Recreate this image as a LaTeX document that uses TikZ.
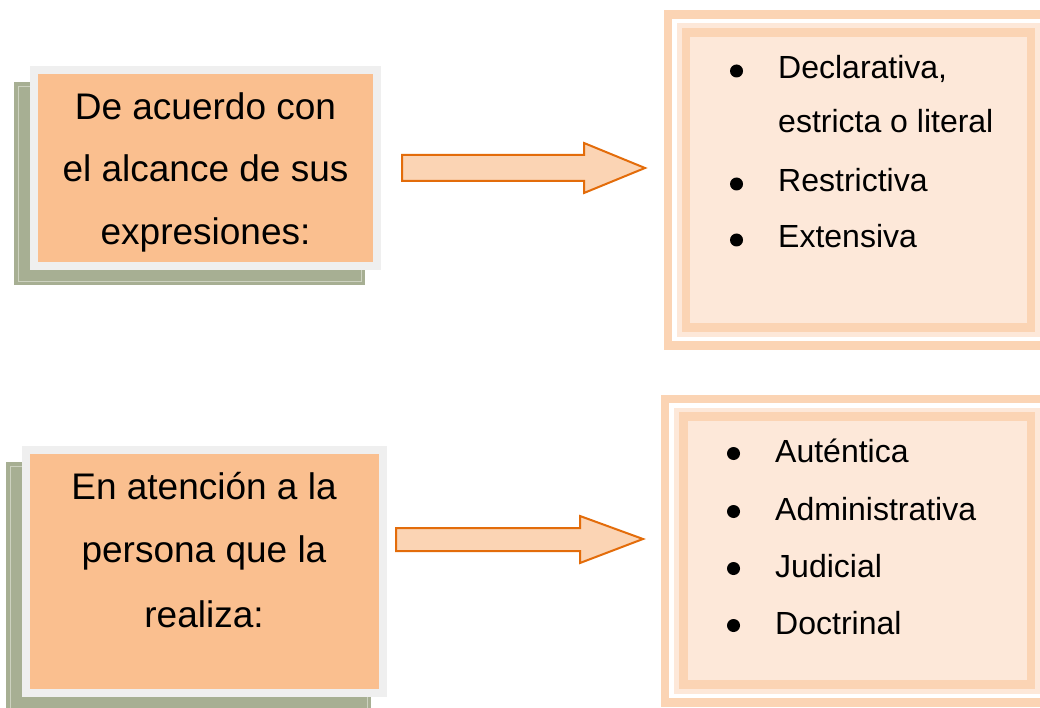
\documentclass[tikz,border=0pt]{standalone}
\usepackage{fontspec}
\setmainfont{Liberation Sans}
\definecolor{boxfill}{HTML}{FABF8F}
\definecolor{framegray}{HTML}{EFEFEF}
\definecolor{shadowgreen}{HTML}{A7AF93}
\definecolor{shadowline}{HTML}{CDD2C0}
\definecolor{band}{HTML}{FBD4B4}
\definecolor{pale}{HTML}{FDE8D9}
\definecolor{arrowline}{HTML}{E36C0A}

\begin{document}
\begin{tikzpicture}[x=1pt,y=-1pt]
\tikzstyle{every node}+=[inner sep=0pt]
\tikzset{
  bigtext/.style={font=\fontsize{37}{43}\selectfont, anchor=base},
  listtext/.style={font=\fontsize{32}{38}\selectfont, anchor=base west},
  dot/.style={circle, fill=black, minimum size=13pt},
  blockarrow/.style={draw=arrowline, fill=band, line width=2pt, line join=miter}
}
\useasboundingbox (0,0) rectangle (1040,708);
% top left box
\fill [shadowgreen] (14,82) rectangle (365,285);
\draw [shadowline] (18,86) rectangle (361,281);
\filldraw [draw=framegray, fill=boxfill, line width=8pt] (34,70.5) rectangle (377,266);
\node [bigtext] (alcanceA) at (205.5,120) {De acuerdo con};
\node [bigtext] (alcanceB) at (205.5,182) {el alcance de sus};
\node [bigtext] (alcanceC) at (205.5,245) {expresiones:};
% bottom left box
\fill [shadowgreen] (6,462) rectangle (371,720);
\draw [shadowline] (10,466) rectangle (367,720);
\filldraw [draw=framegray, fill=boxfill, line width=8pt] (25.5,450) rectangle (383,693);
\node [bigtext] (personaA) at (204,499) {En atención a la};
\node [bigtext] (personaB) at (204,562) {persona que la};
\node [bigtext] (personaC) at (204,627) {realiza:};
% arrows
\draw [blockarrow] (402,155) -- (584,155) -- (584,143) -- (645,168) -- (584,193) -- (584,181) -- (402,181) -- cycle;
\draw [blockarrow] (396,528) -- (580,528) -- (580,516) -- (643,539) -- (580,563) -- (580,551) -- (396,551) -- cycle;
% top right box
\draw [band, line width=8.5pt] (668,14.5) rectangle (1049,345.5);
\fill [pale] (677,23) rectangle (1040,337);
\draw [band, line width=8.5pt] (686,32.5) rectangle (1031,327.5);
\node [dot] (b1) at (736.5,71) {};
\node [listtext] (decl) at (778,79) {Declarativa,};
\node [listtext] (estr) at (778,133) {estricta o literal};
\node [dot] (b2) at (736.5,184) {};
\node [listtext] (restr) at (778,192) {Restrictiva};
\node [dot] (b3) at (736.5,240) {};
\node [listtext] (ext) at (778,248) {Extensiva};
% bottom right box
\draw [band, line width=8.5pt] (665,399) rectangle (1049,702.5);
\fill [pale] (674,408) rectangle (1040,694);
\draw [band, line width=8.5pt] (683.5,416.5) rectangle (1031,684.5);
\node [dot] (b4) at (733.5,453.5) {};
\node [listtext] (aut) at (775,462) {Auténtica};
\node [dot] (b5) at (733.5,511.5) {};
\node [listtext] (adm) at (775,520) {Administrativa};
\node [dot] (b6) at (733.5,568.5) {};
\node [listtext] (jud) at (775,577) {Judicial};
\node [dot] (b7) at (733.5,625.5) {};
\node [listtext] (doc) at (775,634) {Doctrinal};
\end{tikzpicture}
\end{document}
